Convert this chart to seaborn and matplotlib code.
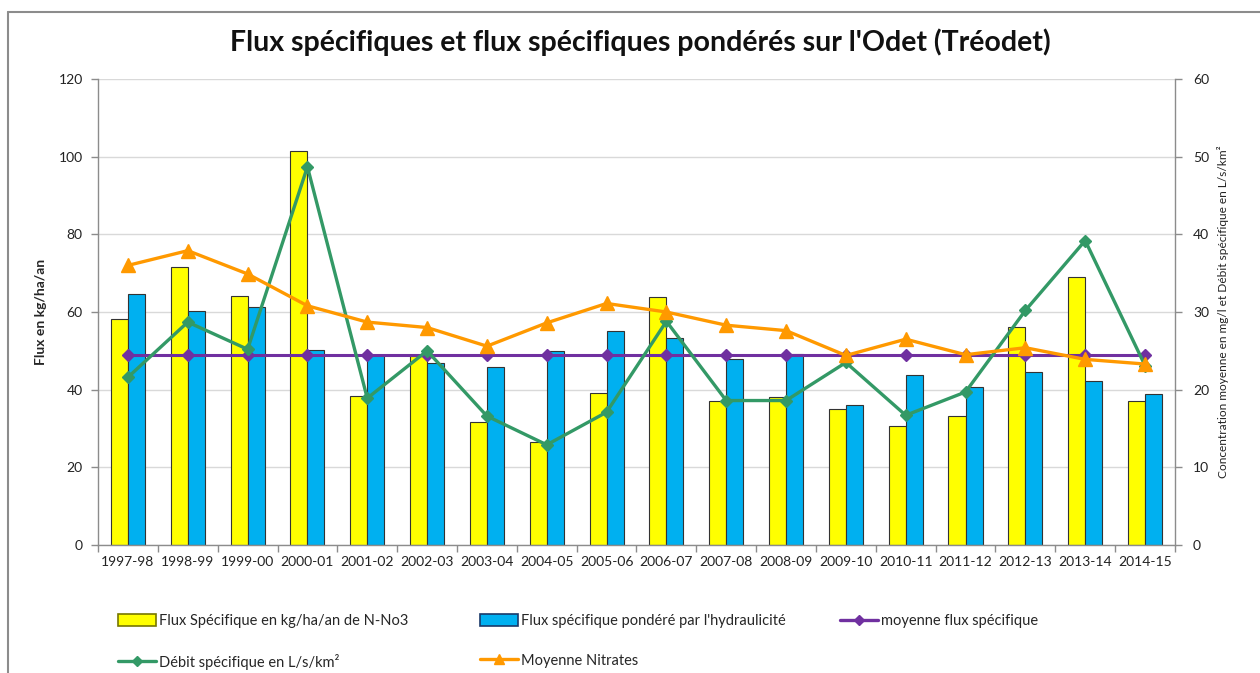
import numpy as np
import pandas as pd
import matplotlib
matplotlib.use("Agg")
import matplotlib.pyplot as plt
from matplotlib.lines import Line2D
from matplotlib.patches import Patch
import seaborn as sns

# ---- data -------------------------------------------------------------
seasons = ["1997-98", "1998-99", "1999-00", "2000-01", "2001-02", "2002-03",
           "2003-04", "2004-05", "2005-06", "2006-07", "2007-08", "2008-09",
           "2009-10", "2010-11", "2011-12", "2012-13", "2013-14", "2014-15"]

flux_specifique = [58.1, 71.6, 64.2, 101.5, 38.4, 48.7, 31.6, 26.6, 39.2,
                   63.9, 37.2, 38.0, 35.0, 30.6, 33.2, 56.1, 68.9, 37.2]
flux_pondere = [64.6, 60.3, 61.2, 50.1, 48.8, 46.9, 45.8, 50.0, 55.1,
                53.4, 47.9, 49.1, 36.0, 43.9, 40.8, 44.6, 42.3, 38.8]
moyenne_flux = [48.9, 48.9, 48.9, 48.9, 48.9, 48.9, 48.9, 48.9, 48.9,
                48.9, 48.9, 48.9, 48.9, 48.9, 48.9, 48.9, 48.9, 48.9]
debit_specifique = [21.6, 28.7, 25.2, 48.7, 18.9, 25.0, 16.6, 12.9, 17.1,
                    28.8, 18.6, 18.6, 23.5, 16.7, 19.7, 30.2, 39.2, 23.1]
moyenne_nitrates = [36.0, 37.9, 34.9, 30.8, 28.7, 28.0, 25.6, 28.6, 31.1,
                    30.0, 28.3, 27.6, 24.4, 26.5, 24.5, 25.4, 23.9, 23.3]

lab_flux = "Flux Spécifique en kg/ha/an de N-No3"
lab_pond = "Flux spécifique pondéré par l'hydraulicité"
lab_moy = "moyenne flux spécifique"
lab_debit = "Débit spécifique en L/s/km²"
lab_nitr = "Moyenne Nitrates"

# ---- style ------------------------------------------------------------
sns.set_theme(style="white")
plt.rcParams["font.family"] = ["Lato", "DejaVu Sans"]

C_YELLOW = "#FFFF00"
C_BLUE = "#00B0F0"
C_PURPLE = "#7030A0"
C_GREEN = "#339966"
C_ORANGE = "#FF9900"
C_AXIS = "#8C8C8C"
C_GRID = "#D9D9D9"

bars = pd.DataFrame({
    "saison": seasons * 2,
    "valeur": flux_specifique + flux_pondere,
    "serie": [lab_flux] * len(seasons) + [lab_pond] * len(seasons),
})

fig = plt.figure(figsize=(12.6, 6.73), dpi=100)
ax = fig.add_axes([0.0778, 0.1902, 0.8547, 0.6924])

sns.barplot(data=bars, x="saison", y="valeur", hue="serie",
            palette=[C_YELLOW, C_BLUE], saturation=1, width=0.57,
            edgecolor="#333333", linewidth=0.8, ax=ax, legend=False,
            zorder=2)

x = np.arange(len(seasons))
ax.plot(x, moyenne_flux, color=C_PURPLE, lw=2.2, marker="D", ms=6.5,
        zorder=3)

ax.set_ylim(0, 120)
ax.set_yticks(np.arange(0, 121, 20))
ax.set_xlim(-0.5, len(seasons) - 0.5)
ax.yaxis.grid(True, color=C_GRID, lw=1.0)
ax.set_axisbelow(True)
ax.set_xlabel("")
ax.set_ylabel("Flux en kg/ha/an", fontsize=10, fontweight="bold",
              labelpad=8)

# category separators as ticks
ax.set_xticks(x)
ax.set_xticklabels(seasons, fontsize=10, color="#222222")
ax.set_xticks(np.arange(-0.5, len(seasons), 1.0), minor=True)
ax.tick_params(axis="x", which="major", length=0, pad=8)
ax.tick_params(axis="x", which="minor", length=5, color=C_AXIS, width=1,
               direction="out", bottom=True)
ax.tick_params(axis="y", length=5, color=C_AXIS, width=1, direction="out",
               left=True, labelsize=10, labelcolor="#222222", pad=6)

for side in ["top", "right"]:
    ax.spines[side].set_visible(False)
for side in ["left", "bottom"]:
    ax.spines[side].set_color(C_AXIS)
    ax.spines[side].set_linewidth(1.0)

# secondary axis: discharge and nitrate concentration
ax2 = ax.twinx()
ax2.plot(x, debit_specifique, color=C_GREEN, lw=2.4, marker="D", ms=6.5,
         zorder=4)
ax2.plot(x, moyenne_nitrates, color=C_ORANGE, lw=2.4, marker="^", ms=10,
         zorder=4)
ax2.set_ylim(0, 60)
ax2.set_yticks(np.arange(0, 61, 10))
ax2.tick_params(axis="y", length=5, color=C_AXIS, width=1, direction="out",
                right=True, labelsize=10, labelcolor="#222222", pad=8)
for side in ["top", "left", "bottom"]:
    ax2.spines[side].set_visible(False)
ax2.spines["right"].set_color(C_AXIS)
ax2.spines["right"].set_linewidth(1.0)
ax2.set_ylabel("Concentration moyenne en mg/l et Débit spécifique en L/s/km²",
               fontsize=8.6, labelpad=6, color="#222222")

fig.suptitle("Flux spécifiques et flux spécifiques pondérés sur l'Odet (Tréodet)",
             x=0.508, y=0.958, fontsize=20.5, fontweight="bold", color="#111111")

# legend below the plot, laid out as a three-column grid
h_flux = Patch(facecolor=C_YELLOW, edgecolor="#777700", lw=1.2)
h_pond = Patch(facecolor=C_BLUE, edgecolor="#1a3a6a", lw=1.2)
h_moy = Line2D([], [], color=C_PURPLE, lw=2.4, marker="D", ms=5)
h_debit = Line2D([], [], color=C_GREEN, lw=2.4, marker="D", ms=5)
h_nitr = Line2D([], [], color=C_ORANGE, lw=2.4, marker="^", ms=7)

legend_kw = dict(loc="upper left", frameon=False, fontsize=10.5,
                 handlelength=2.6, handleheight=0.9, handletextpad=0.2,
                 labelspacing=1.75, borderpad=0, borderaxespad=0)
columns = [([h_flux, h_debit], [lab_flux, lab_debit], 118),
           ([h_pond, h_nitr], [lab_pond, lab_nitr], 480),
           ([h_moy], [lab_moy], 840)]
for handles, labels, x_px in columns:
    fig.legend(handles, labels, bbox_to_anchor=(x_px / 1260, 1 - 614 / 673),
               **legend_kw)

# outer chart border
fig.add_artist(Line2D([8 / 1260, 1.0], [1 - 12 / 673, 1 - 12 / 673],
                      transform=fig.transFigure, color="#8C8C8C", lw=1.5))
fig.add_artist(Line2D([8 / 1260, 8 / 1260], [0.0, 1 - 12 / 673],
                      transform=fig.transFigure, color="#8C8C8C", lw=1.5))

fig.savefig("out.png", dpi=100, facecolor="white")
